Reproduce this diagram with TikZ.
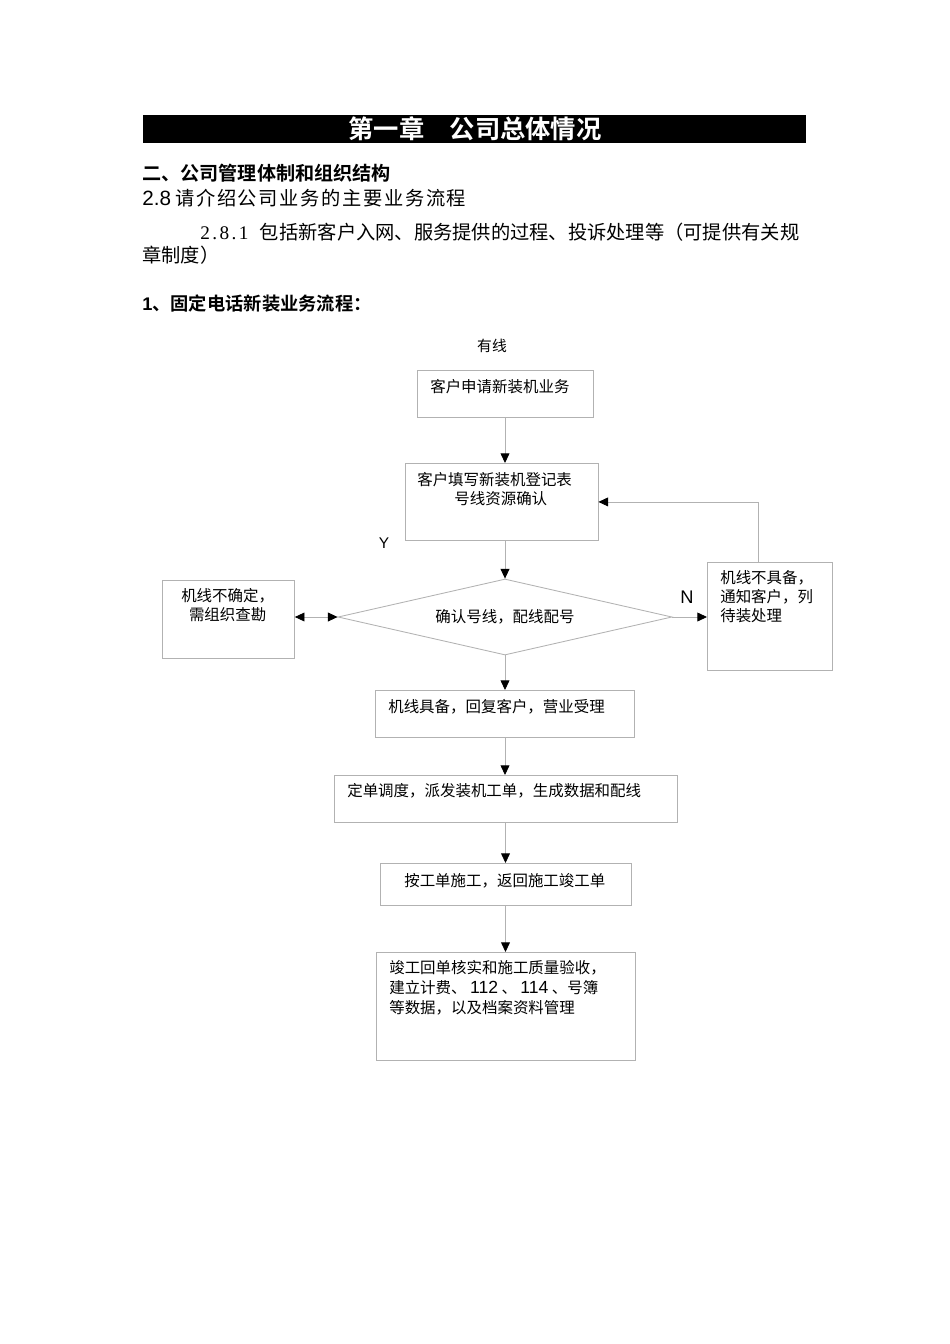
\documentclass[tikz,border=0pt]{standalone}
\usepackage{fontspec}
\setmainfont{Noto Sans CJK SC}[BoldFont={Noto Sans CJK SC Bold}]
\newfontfamily\arial{Liberation Sans}
\newfontfamily\serifnum{Liberation Serif}
\newfontfamily\widecjk{Noto Sans CJK SC}[LetterSpace=8.5]
\newcommand\halfw[1]{\makebox[0.5em]{#1}}
\usepackage{xcolor}
\usetikzlibrary{arrows.meta,shapes.geometric}
\definecolor{linegray}{RGB}{178,178,178}
\tikzset{flowtip/.tip={Triangle[black, length=2.4mm, width=2.2mm]}}

\begin{document}
\begin{tikzpicture}[x=0.25mm, y=-0.25mm,
    box/.style={draw=linegray, line width=0.6pt, inner sep=0pt, anchor=north},
    txt/.style={inner sep=0pt, anchor=west, font=\fontsize{11}{13.5}\selectfont},
    para/.style={inner sep=0pt, anchor=north west, align=left, font=\fontsize{11}{13.5}\selectfont},
    head/.style={inner sep=0pt, anchor=west, font=\fontsize{13.7}{16}\selectfont},
    flow/.style={draw=linegray, line width=0.6pt, -flowtip},
    ]
    \useasboundingbox[fill=white] (0,0) rectangle (950,1344);

    \fill[black] (143,115) rectangle (806,143);
    \node[inner sep=0pt, white, font=\fontsize{18}{20}\selectfont\bfseries] (title) at (475,129) {第一章　公司总体情况};
    \node[head, font=\fontsize{13.6}{15}\selectfont\bfseries] (sec) at (142,173) {二、公司管理体制和组织结构};
    \node[head] (q28) at (142,198) {{\arial\fontsize{14.7}{16}\selectfont 2.8} {\widecjk 请介绍公司业务的主要业务流程}};
    \node[head] (q281) at (200,232) {\serifnum\halfw{2}\halfw{.}\halfw{8}\halfw{.}\halfw{1}\hspace{0.6em}\normalfont 包括新客户入网、服务提供的过程、投诉处理等（可提供有关规};
    \node[head] (q281b) at (142,255) {章制度）};
    \node[head, font=\fontsize{13}{15}\selectfont\bfseries] (item) at (142,304) {{\arial\bfseries 1}、固定电话新装业务流程：};

    \node[inner sep=0pt, font=\fontsize{10.5}{12}\selectfont] (wired) at (492,346) {有线};

    \node[box, minimum width=44mm, minimum height=11.75mm] (apply) at (505,370) {};
    \node[txt] (applyt) at (430,387) {客户申请新装机业务};

    \node[box, minimum width=48.25mm, minimum height=19.25mm] (form) at (501.5,463) {};
    \node[para] (formt) at (417,472) {客户填写新装机登记表\\\hspace{2.4em}号线资源确认};

    \node[diamond, draw=linegray, line width=0.6pt, aspect=4.4, inner sep=0pt,
          minimum width=83.5mm, minimum height=19mm,
          font=\fontsize{11}{13.5}\selectfont] (check) at (505,617) {确认号线，配线配号};

    \node[box, anchor=north west, minimum width=33mm, minimum height=19.5mm] (survey) at (162,580) {};
    \node[para] (surveyt) at (181,588) {机线不确定，\\\hspace{0.5em}需组织查勘};

    \node[box, anchor=north west, minimum width=31.25mm, minimum height=27mm] (nogo) at (707,562) {};
    \node[para] (nogot) at (720,570) {机线不具备，\\通知客户，列\\待装处理};

    \node[box, minimum width=64.75mm, minimum height=11.75mm] (accept) at (505,690) {};
    \node[txt] (acceptt) at (388,707) {机线具备，回复客户，营业受理};

    \node[box, minimum width=85.75mm, minimum height=11.75mm] (dispatch) at (505.5,775) {};
    \node[txt] (dispatcht) at (347,791) {定单调度，派发装机工单，生成数据和配线};

    \node[box, minimum width=62.75mm, minimum height=10.5mm] (build) at (505.5,863) {};
    \node[txt] (buildt) at (404,881) {按工单施工，返回施工竣工单};

    \node[box, minimum width=64.75mm, minimum height=27mm] (close) at (505.5,952) {};
    \node[para, font=\fontsize{11}{14.2}\selectfont] (closet) at (389,960.5) {竣工回单核实和施工质量验收，\\建立计费、 {\arial\fontsize{12.5}{14.2}\selectfont 112} 、 {\arial\fontsize{12.5}{14.2}\selectfont 114} 、号簿\\等数据，以及档案资料管理};

    \node[inner sep=0pt, font=\arial\fontsize{11}{12}\selectfont] (yes) at (384,543) {Y};
    \node[inner sep=0pt, font=\arial\fontsize{13}{14}\selectfont] (no) at (687,597) {N};

    \draw[flow] (apply.south) -- (apply.south |- form.north);
    \draw[flow] (check.north |- form.south) -- (check.north);
    \draw[flow, flowtip-flowtip] (check.west -| survey.east) -- (check.west);
    \draw[flow] (check.east) -- (check.east -| nogo.west);
    \draw[flow] ([xshift=-3mm]nogo.north) |- (form.east);
    \draw[flow] (check.south) -- (check.south |- accept.north);
    \draw[flow] (accept.south) -- (accept.south |- dispatch.north);
    \draw[flow] (dispatch.south) -- (dispatch.south |- build.north);
    \draw[flow] (build.south) -- (build.south |- close.north);
\end{tikzpicture}
\end{document}
